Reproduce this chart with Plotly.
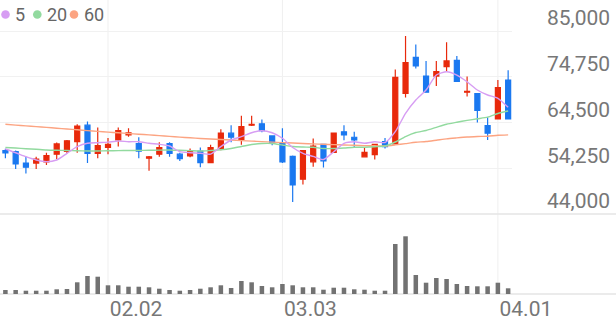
import plotly.graph_objects as go

# ---------------- data ----------------
dates = [
    "2026-01-19", "2026-01-20", "2026-01-21", "2026-01-22", "2026-01-23",
    "2026-01-26", "2026-01-27", "2026-01-28", "2026-01-29", "2026-01-30",
    "2026-02-02", "2026-02-03", "2026-02-04", "2026-02-05", "2026-02-06",
    "2026-02-09", "2026-02-10", "2026-02-11", "2026-02-12", "2026-02-13",
    "2026-02-19", "2026-02-20", "2026-02-23", "2026-02-24", "2026-02-25",
    "2026-02-26", "2026-02-27", "2026-03-03", "2026-03-04", "2026-03-05",
    "2026-03-06", "2026-03-09", "2026-03-10", "2026-03-11", "2026-03-12",
    "2026-03-13", "2026-03-16", "2026-03-17", "2026-03-18", "2026-03-19",
    "2026-03-20", "2026-03-23", "2026-03-24", "2026-03-25", "2026-03-26",
    "2026-03-27", "2026-03-30", "2026-03-31", "2026-04-01", "2026-04-02",
]
opens = [58200, 58000, 55400, 55400, 55700, 57400, 58000, 60200, 63900, 57600,
         58900, 60600, 61700, 59800, 56500, 57400, 59800, 57400, 57000, 58100,
         55500, 58700, 62100, 60700, 63900, 64200, 61500, 59900, 56900, 51800,
         55700, 59600, 57800, 62400, 61200, 56800, 57300, 60200, 59700, 71000,
         79100, 74900, 74900, 77000, 78400, 71300, 71000, 63800, 65300, 74000]
highs = [58600, 58200, 56800, 56800, 57700, 60000, 60600, 64100, 64700, 63400,
         61000, 63400, 63200, 61200, 57000, 60100, 60100, 57700, 58700, 58900,
         59500, 63000, 63900, 66000, 66000, 65200, 61500, 63200, 57100, 58200,
         60900, 59600, 62100, 63900, 62400, 59000, 59600, 61000, 76400, 83900,
         82000, 78300, 78300, 82500, 79400, 74800, 71000, 65700, 74000, 76200]
lows = [56500, 54100, 53100, 54100, 55000, 56300, 57600, 57700, 55400, 56500,
        57400, 59100, 61300, 56500, 53700, 56800, 56800, 55900, 56700, 54500,
        55400, 58300, 60100, 59500, 63700, 62300, 59400, 55400, 46700, 50600,
        54600, 54400, 57800, 60500, 58900, 56800, 56200, 58700, 59700, 70100,
        76600, 71300, 72700, 75800, 73700, 70300, 64500, 60600, 65300, 65300]
closes = [57700, 55200, 54500, 56300, 57100, 59700, 60400, 63700, 57600, 59300,
          59600, 62700, 62200, 58100, 56800, 58900, 57600, 56400, 58000, 55500,
          58900, 62100, 61200, 63600, 64100, 62700, 60000, 55700, 50500, 58200,
          59200, 55900, 62100, 61700, 60600, 57800, 59600, 59100, 74600, 77900,
          77200, 71300, 75900, 78300, 73700, 71500, 67200, 62100, 72300, 65300]
volumes = [240000, 240000, 198000, 198000, 198000, 282000, 300000, 702000, 1080000, 1038000,
           522000, 522000, 438000, 438000, 402000, 318000, 240000, 198000, 240000, 318000,
           402000, 522000, 360000, 780000, 702000, 480000, 402000, 600000, 522000, 402000,
           402000, 258000, 378000, 378000, 282000, 258000, 198000, 198000, 3000000, 3462000,
           1140000, 678000, 960000, 900000, 600000, 480000, 462000, 462000, 678000, 342000]
ma5 = [58560, 57730, 56840, 56100, 55720, 56100, 57600, 59080, 59840, 59970,
       60100, 60350, 60200, 60200, 59840, 59620, 59230, 57960, 57730, 57600,
       57400, 59080, 60580, 61320, 62210, 62660, 62210, 60960, 58900, 57600,
       56900, 56200, 57960, 59840, 60200, 59840, 60200, 60020, 62440, 66560,
       69540, 71780, 75140, 75880, 75140, 73640, 71780, 70660, 69920, 67900]
ma20 = [58900, 58790, 58630, 58500, 58340, 58270, 58230, 58160, 58110, 58110,
        58160, 58200, 58230, 58250, 58270, 58320, 58340, 58270, 58200, 58110,
        58230, 58380, 58670, 59120, 59570, 59800, 59800, 59460, 59120, 59010,
        58940, 58670, 58670, 58790, 58940, 58970, 59080, 59230, 60130, 61360,
        62260, 62710, 63420, 64120, 64570, 64970, 65330, 65690, 66520, 67080]
ma60 = [64100, 63920, 63740, 63580, 63400, 63220, 63040, 62860, 62690, 62510,
        62350, 62190, 62040, 61880, 61720, 61560, 61390, 61230, 61070, 60920,
        60800, 60690, 60580, 60450, 60330, 60220, 60110, 60000, 59910, 59800,
        59710, 59620, 59550, 59460, 59390, 59320, 59280, 59240, 59480, 59770,
        60060, 60240, 60530, 60830, 61050, 61250, 61360, 61430, 61630, 61720]
tick_dates = ["2026-02-02", "2026-03-03", "2026-04-01"]
tick_labels = ["02.02", "03.03", "04.01"]
price_ticks = [44000, 54250, 64500, 74750, 85000]
ma_labels = ["5", "20", "60"]

# ---------------- style ----------------
W, H = 616, 321
ML, MR, MT, MB = 0, 104, 0, 27
PW, PH = W - ML - MR, H - MT - MB
RED, BLUE, GRAY = "#e8290b", "#1a78f0", "#727272"
MA_COLORS = ["#d79df3", "#92da9f", "#fca482"]
TXT = "#777777"
FONT = "Roboto"

main_bottom_px = 214
vol_top_px = 222
main_dom = [(PH - main_bottom_px) / PH, 1.0]
vol_dom = [0.0, (PH - vol_top_px) / PH]

fig = go.Figure()

for vals, col in zip([ma60, ma20, ma5], MA_COLORS[::-1]):
    fig.add_trace(go.Scatter(x=dates, y=vals, mode="lines",
                             line=dict(color=col, width=1.4, shape="spline", smoothing=0.6),
                             hoverinfo="skip", showlegend=False, xaxis="x", yaxis="y"))

fig.add_trace(go.Candlestick(
    x=dates, open=opens, high=highs, low=lows, close=closes,
    increasing=dict(line=dict(color=RED, width=1.2), fillcolor=RED),
    decreasing=dict(line=dict(color=BLUE, width=1.2), fillcolor=BLUE),
    whiskerwidth=0, hoverinfo="skip", showlegend=False, xaxis="x", yaxis="y"))

fig.add_trace(go.Bar(x=dates, y=volumes, marker=dict(color=GRAY, line=dict(width=0)),
                     width=0.44, hoverinfo="skip", showlegend=False,
                     xaxis="x2", yaxis="y2"))

px_per = 10.26
x_lo = -5.4 / px_per
x_hi = x_lo + PW / px_per

ytop = 85000 + (85000 - 44000) / (214 - 31) * 31

shapes = []
for d in tick_dates:
    i = dates.index(d)
    shapes.append(dict(type="line", xref="x", yref="paper", x0=i, x1=i, y0=0, y1=1,
                       line=dict(color="#efefef", width=1), layer="below"))
for yp in [main_dom[0], 0.0]:
    shapes.append(dict(type="line", xref="paper", yref="paper", x0=0, x1=W / PW,
                       y0=yp, y1=yp, line=dict(color="#e4e4e4", width=1.5), layer="below"))

annotations = []
leg_cx = [5.5, 37.3, 74.0]
leg_tx = [13.0, 45.0, 82.0]
leg_y = (PH - 14.5) / PH
for cx, tx, lab, col in zip(leg_cx, leg_tx, ma_labels, MA_COLORS):
    shapes.append(dict(type="circle", xref="paper", yref="paper",
                       xsizemode="pixel", ysizemode="pixel",
                       xanchor=cx / PW, yanchor=leg_y, x0=-4.3, x1=4.3, y0=-4.3, y1=4.3,
                       fillcolor=col, line=dict(width=0)))
    annotations.append(dict(xref="paper", yref="paper", x=tx / PW, y=leg_y,
                            xanchor="left", yanchor="middle", showarrow=False,
                            text=lab, font=dict(family=FONT, size=18, color="#666666")))

fig.update_layout(
    width=W, height=H, margin=dict(l=ML, r=MR, t=MT, b=MB),
    paper_bgcolor="white", plot_bgcolor="white",
    font=dict(family=FONT, color=TXT),
    showlegend=False,
    shapes=shapes, annotations=annotations,
    xaxis=dict(type="category", domain=[0, 1], anchor="y", range=[x_lo, x_hi],
               showticklabels=False, showgrid=False, zeroline=False, showline=False,
               ticks="", rangeslider=dict(visible=False), fixedrange=True),
    yaxis=dict(domain=main_dom, anchor="x", side="right", range=[44000, ytop],
               tickvals=price_ticks, tickformat=",d", showgrid=True, gridcolor="#f1f1f1",
               gridwidth=1, zeroline=False, showline=False, ticks="",
               ticklabelshift=-13, ticklabelstandoff=34,
               tickfont=dict(family=FONT, size=21, color=TXT), fixedrange=True),
    xaxis2=dict(type="category", domain=[0, 1], anchor="y2", matches="x", range=[x_lo, x_hi],
                tickvals=tick_dates, ticktext=tick_labels, showgrid=False, zeroline=False,
                showline=False, ticks="", ticklabelshift=28, ticklabelstandoff=0,
                tickfont=dict(family=FONT, size=21, color=TXT), fixedrange=True),
    yaxis2=dict(domain=vol_dom, anchor="x2", range=[0, 72 * 60000], showticklabels=False,
                showgrid=False, zeroline=False, showline=False, ticks="", fixedrange=True),
)

fig.write_html("out.html")
